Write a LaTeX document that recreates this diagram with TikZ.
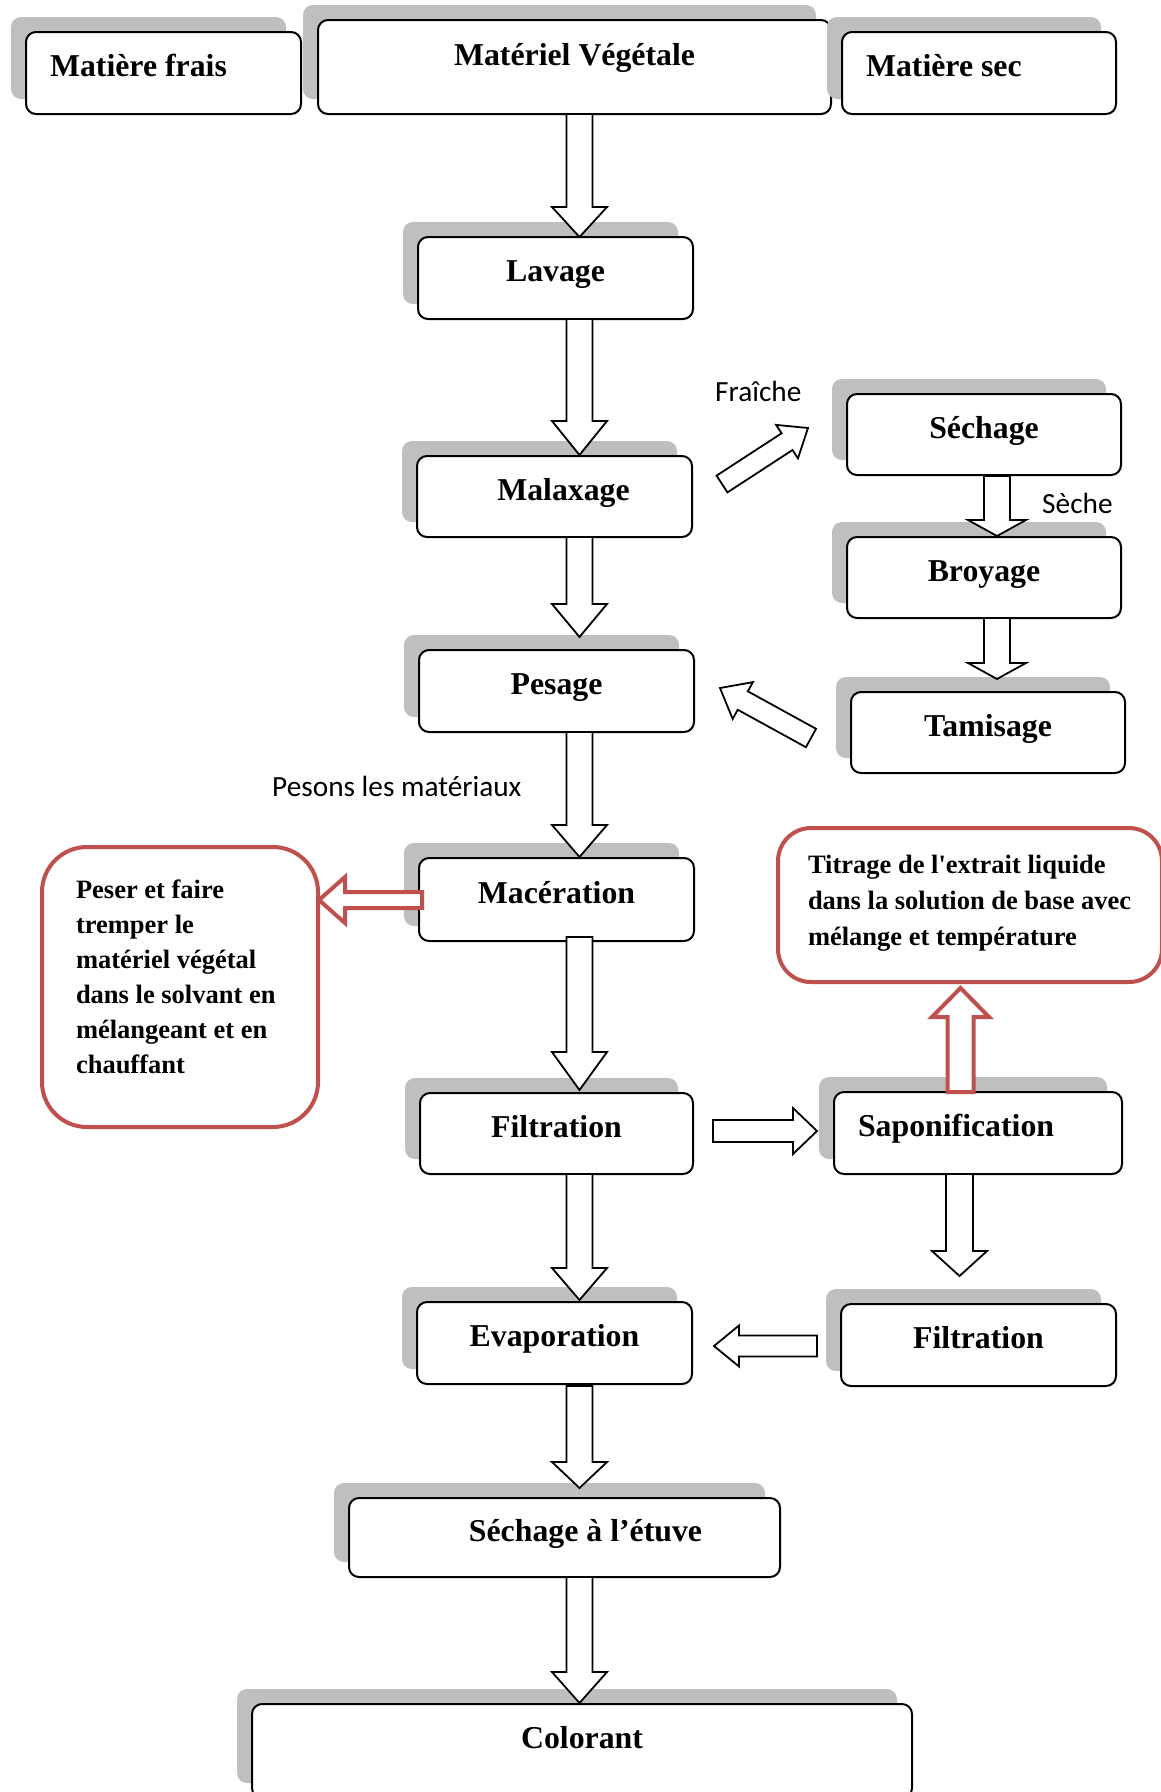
\documentclass[tikz,border=0pt]{standalone}
\usepackage{fontspec}
\setmainfont{Liberation Serif}
\newfontfamily\labfont{Carlito}
\usetikzlibrary{calc,shadows}
\definecolor{redc}{HTML}{C0504D}
\definecolor{shad}{HTML}{BFBFBF}
\newcommand\boxfont{\fontsize{31.8}{38}\selectfont\bfseries}
\newcommand\redfontL{\fontsize{26.5}{35}\selectfont\bfseries}
\newcommand\redfontR{\fontsize{26.5}{36}\selectfont\bfseries}
% block arrow: #1 style, #2 tail, #3 tip, #4 shaft half width, #5 head half width, #6 head length
\newcommand\blockarr[6]{%
  \coordinate (bah) at ($(#3)!#6!(#2)$);
  \draw[#1] ($(#2)!#4!90:(#3)$) -- ($(bah)!#4!-90:(#2)$) -- ($(bah)!#5!-90:(#2)$) -- (#3)
    -- ($(bah)!#5!90:(#2)$) -- ($(bah)!#4!90:(#2)$) -- ($(#2)!#4!-90:(#3)$) -- cycle;
}
\tikzset{
  box/.style={draw=black, line width=2pt, rounded corners=10pt, fill=white, inner sep=0pt,
    minimum width=275pt, minimum height=82pt, font=\boxfont, text height=22pt, text depth=15pt,
    general shadow={fill=shad, shadow xshift=-15pt, shadow yshift=15pt}},
  redbox/.style={draw=redc, line width=4pt, fill=white, inner sep=0pt},
  lab/.style={font=\labfont\fontsize{29.3}{35}\selectfont, inner sep=0pt, anchor=base west},
  barrow/.style={draw=black, line width=1.8pt, fill=white, line join=miter},
  rarrow/.style={draw=redc, line width=4pt, fill=white, line join=miter}
}
\begin{document}
\begin{tikzpicture}[x=1pt,y=-1pt]
\useasboundingbox (0,0) rectangle (1161,1792);
\clip (0,0) rectangle (1161,1792);
\fill[white] (0,0) rectangle (1161,1792);

% top row
\node[box] (frais) at (163.5,73) {\makebox[227pt][l]{Matière frais}};
\node[box, minimum width=513pt, minimum height=94pt, text height=17pt, text depth=21pt] (mv) at (574.5,67) {Matériel Végétale};
\node[box, minimum width=274pt] (sec) at (979,73) {\makebox[226pt][l]{Matière sec}};

% main column
\node[box] (lavage) at (555.5,278) {Lavage};
\node[box, minimum height=81pt] (malaxage) at (554.5,496.5) {\hspace*{18pt}Malaxage};
\node[box] (pesage) at (556.5,691) {Pesage};
\node[box, minimum height=83pt] (maceration) at (556.5,899.5) {Macération};
\node[box, minimum width=273pt, minimum height=81pt] (filtration) at (556.5,1133.5) {Filtration};
\node[box] (evaporation) at (554.5,1343) {Evaporation};
\node[box, minimum width=431pt, minimum height=79pt] (etuve) at (564.5,1537.5) {\hspace*{42pt}Séchage à l’étuve};
\node[box, minimum width=660pt, minimum height=94pt, text height=16pt, text depth=22pt] (colorant) at (582,1751) {Colorant};

% right column
\node[box, minimum width=274pt, minimum height=81pt] (sechage) at (984,434.5) {Séchage};
\node[box, minimum width=274pt, minimum height=81pt] (broyage) at (984,577.5) {Broyage};
\node[box, minimum width=274pt, minimum height=81pt] (tamisage) at (988,732.5) {Tamisage};
\node[box, minimum width=288pt] (sapon) at (978,1133) {\makebox[240pt][l]{Saponification}};
\node[box] (filt2) at (978.5,1345) {Filtration};

% red boxes
\node[redbox, minimum width=276pt, minimum height=280pt, rounded corners=45pt] (redL) at (180,987)
  {\parbox[c][214pt][t]{208pt}{\redfontL \mbox{Peser et faire}\\ \mbox{tremper le}\\ \mbox{matériel végétal}\\ \mbox{dans le solvant en}\\ \mbox{mélangeant et en}\\ \mbox{chauffant}}};
\node[redbox, minimum width=384pt, minimum height=154pt, rounded corners=33pt] (redR) at (970,905)
  {\parbox[c][100pt][t]{324pt}{\redfontR \mbox{Titrage de l\textquotesingle extrait liquide}\\ \mbox{dans la solution de base avec}\\ \mbox{mélange et température}}};

% labels
\node[lab] (fraiche) at (715,401) {Fraîche};
\node[lab] (seche) at (1042,513) {Sèche};
\node[lab] (pesons) at (272,796) {Pesons les matériaux};

% arrow end points
\coordinate (a1t) at (579.5,114);  \coordinate (a1h) at (579.5,237);
\coordinate (a2t) at (579.5,319);  \coordinate (a2h) at (579.5,455);
\coordinate (a3t) at (579.5,537);  \coordinate (a3h) at (579.5,637);
\coordinate (a4t) at (579.5,732);  \coordinate (a4h) at (579.5,857);
\coordinate (a5t) at (579.5,937);  \coordinate (a5h) at (579.5,1090);
\coordinate (a6t) at (579.5,1174); \coordinate (a6h) at (579.5,1300);
\coordinate (a7t) at (579.5,1386); \coordinate (a7h) at (579.5,1488);
\coordinate (a8t) at (579.5,1577); \coordinate (a8h) at (579.5,1703);
\coordinate (a9t) at (997,476);    \coordinate (a9h) at (997,536);
\coordinate (a10t) at (997,618);   \coordinate (a10h) at (997,679);
\coordinate (a11t) at (722,484);   \coordinate (a11h) at (808,428);
\coordinate (a12t) at (811,738);   \coordinate (a12h) at (720,688);
\coordinate (a13t) at (713,1131);  \coordinate (a13h) at (817,1131);
\coordinate (a14t) at (817,1346);  \coordinate (a14h) at (714,1346);
\coordinate (a15t) at (959.5,1174);\coordinate (a15h) at (959.5,1276);
\coordinate (a16t) at (422,900);   \coordinate (a16h) at (319,900);
\coordinate (a17t) at (960.5,1092);\coordinate (a17h) at (960.5,988);

% black block arrows
\blockarr{barrow}{a1t}{a1h}{13pt}{27.5pt}{30pt}
\blockarr{barrow}{a2t}{a2h}{13pt}{27.5pt}{34pt}
\blockarr{barrow}{a3t}{a3h}{13pt}{27.5pt}{33pt}
\blockarr{barrow}{a4t}{a4h}{13pt}{27.5pt}{32pt}
\blockarr{barrow}{a5t}{a5h}{13pt}{27.5pt}{38pt}
\blockarr{barrow}{a6t}{a6h}{13pt}{27.5pt}{32pt}
\blockarr{barrow}{a7t}{a7h}{13pt}{27.5pt}{26pt}
\blockarr{barrow}{a8t}{a8h}{13pt}{27.5pt}{31pt}
\blockarr{barrow}{a9t}{a9h}{13pt}{29pt}{16pt}
\blockarr{barrow}{a10t}{a10h}{13pt}{29pt}{16pt}
\blockarr{barrow}{a11t}{a11h}{10pt}{20pt}{25pt}
\blockarr{barrow}{a12t}{a12h}{10.5pt}{21pt}{26pt}
\blockarr{barrow}{a13t}{a13h}{11pt}{23pt}{24pt}
\blockarr{barrow}{a14t}{a14h}{10.5pt}{20.5pt}{25pt}
\blockarr{barrow}{a15t}{a15h}{13.5pt}{27.5pt}{25pt}

% red block arrows
\blockarr{rarrow}{a16t}{a16h}{8pt}{23pt}{26pt}
\blockarr{rarrow}{a17t}{a17h}{13pt}{28.5pt}{29pt}
\end{tikzpicture}
\end{document}
